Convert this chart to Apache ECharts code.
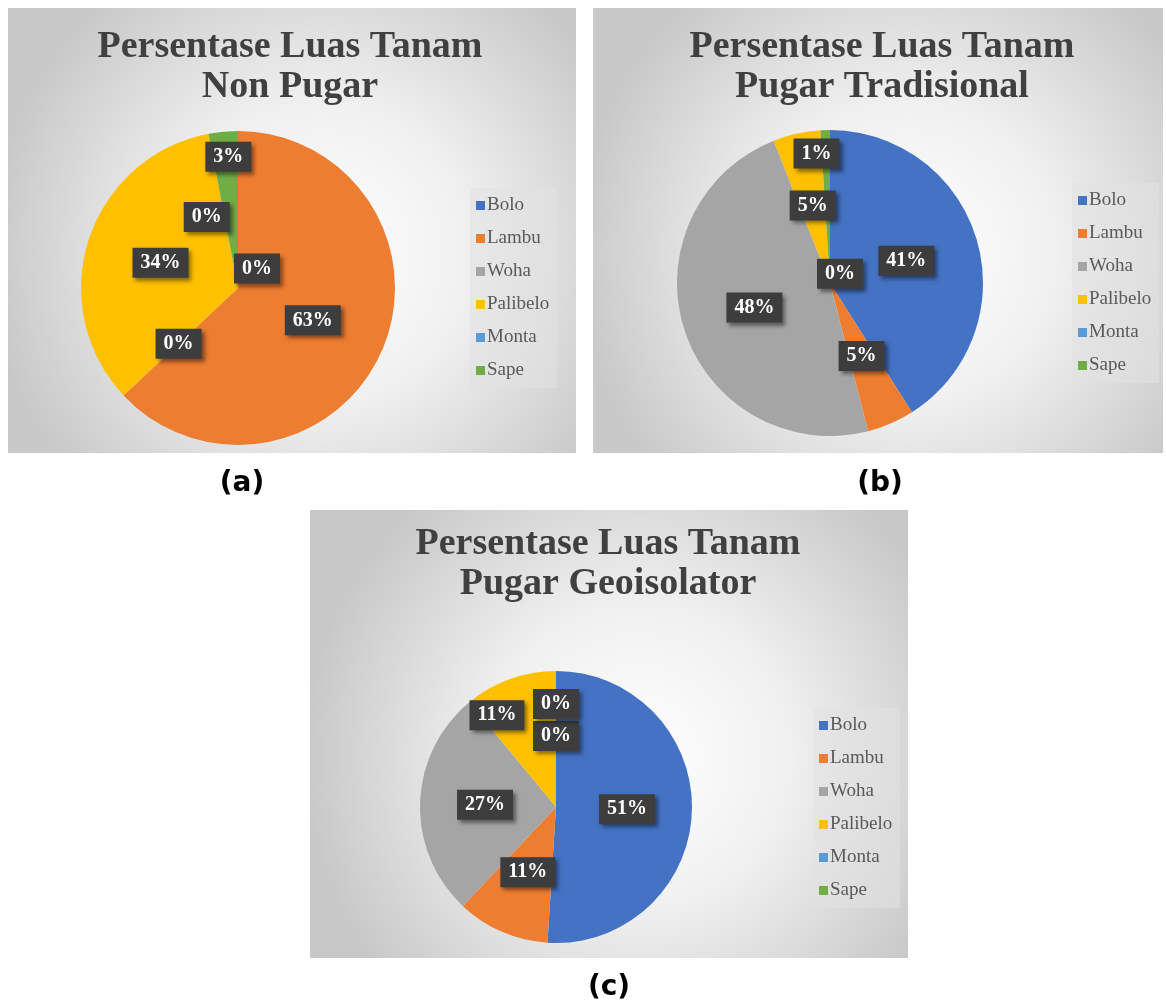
<!DOCTYPE html>
<html>
<head>
<meta charset="utf-8">
<script src="https://cdn.jsdelivr.net/npm/echarts@6/dist/echarts.min.js"></script>
<style>html,body{margin:0;padding:0;background:#fff;}#c{width:1166px;height:1005px;}</style>
</head>
<body>
<div id="c"></div>
<script>
// ---- data ----
const categories = ['Bolo', 'Lambu', 'Woha', 'Palibelo', 'Monta', 'Sape'];
const nonPugar = [0, 63, 0, 34, 0, 3];
const pugarTradisional = [41, 5, 48, 5, 0, 1];
const pugarGeoisolator = [51, 11, 27, 11, 0, 0];
const titles = ['Persentase Luas Tanam\nNon Pugar', 'Persentase Luas Tanam\nPugar Tradisional', 'Persentase Luas Tanam\nPugar Geoisolator'];
const panelTags = ['(a)', '(b)', '(c)'];

// ---- style ----
const colors = ['#4472C4', '#ED7D31', '#A5A5A5', '#FFC000', '#5B9BD5', '#70AD47'];
const panels = [
  { rect: [8, 8, 568, 445], titleX: 290, titleY: 27, center: [238, 288], r: 157, legend: [470, 188], tag: [242, 484],
    nudge: { Sape: [-2, -50], Monta: [-16, 9], Bolo: [19, 62] } },
  { rect: [593, 8, 570, 445], titleX: 882, titleY: 27, center: [830, 283], r: 153, legend: [1072, 183], tag: [880, 484],
    nudge: { Sape: [-11, -50], Monta: [15, 70] } },
  { rect: [310, 510, 598, 448], titleX: 608, titleY: 524, center: [556, 807], r: 136, legend: [813, 708], tag: [609, 988],
    nudge: { Sape: [0, -32], Palibelo: [-35, -25] } }
];
const datasets = [nonPugar, pugarTradisional, pugarGeoisolator];

const chart = echarts.init(document.getElementById('c'), null, { renderer: 'canvas' });

const graphics = [];
panels.forEach((p, i) => {
  graphics.push({
    type: 'rect', z: -10, silent: true,
    shape: { x: p.rect[0], y: p.rect[1], width: p.rect[2], height: p.rect[3] },
    style: {
      fill: {
        type: 'radial', x: 0.55, y: 0.55, r: 0.75,
        colorStops: [{ offset: 0, color: '#ffffff' }, { offset: 0.45, color: '#f0f0f0' }, { offset: 1, color: '#c8c8c8' }]
      }
    }
  });
  graphics.push({
    type: 'text', x: p.tag[0], y: p.tag[1],
    style: { text: panelTags[i], font: 'bold 28px "DejaVu Sans"', fill: '#000', align: 'center', verticalAlign: 'middle' }
  });
});

const option = {
  animation: false,
  color: colors,
  graphic: graphics,
  title: panels.map((p, i) => ({
    text: titles[i], left: p.titleX, top: p.titleY, textAlign: 'center', padding: 0,
    textStyle: { fontFamily: 'Liberation Serif', fontWeight: 'bold', fontSize: 38, lineHeight: 40, color: '#404040' }
  })),
  legend: panels.map((p, i) => ({
    seriesIndex: [i],
    data: categories,
    orient: 'vertical', left: p.legend[0], top: p.legend[1],
    itemWidth: 9, itemHeight: 9, itemGap: 14, icon: 'rect',
    backgroundColor: 'rgba(225,225,225,0.55)', padding: [8, 8, 8, 6],
    textStyle: { fontFamily: 'Liberation Serif', fontSize: 19, lineHeight: 19, color: '#595959', padding: [0, 0, 0, -3] },
    selectedMode: false
  })),
  series: panels.map((p, i) => ({
    type: 'pie',
    center: p.center,
    radius: [0, p.r],
    startAngle: 90,
    clockwise: true,
    avoidLabelOverlap: false,
    data: categories.map((c, k) => ({ name: c, value: datasets[i][k] })),
    itemStyle: { borderWidth: 0 },
    label: {
      show: true, position: 'inside',
      formatter: (prm) => Math.round(prm.percent) + '%',
      fontFamily: 'Liberation Serif', fontWeight: 'bold', fontSize: 20, lineHeight: 20, color: '#ffffff',
      backgroundColor: '#3d3d3d', padding: [5, 8],
      shadowColor: 'rgba(0,0,0,0.45)', shadowBlur: 4, shadowOffsetX: 3, shadowOffsetY: 3
    },
    labelLine: { show: false },
    emphasis: { disabled: true },
    labelLayout: (prm) => {
      const n = p.nudge[categories[prm.dataIndex]];
      return n ? { dx: n[0], dy: n[1] } : {};
    }
  }))
};
chart.setOption(option);
</script>
</body>
</html>
